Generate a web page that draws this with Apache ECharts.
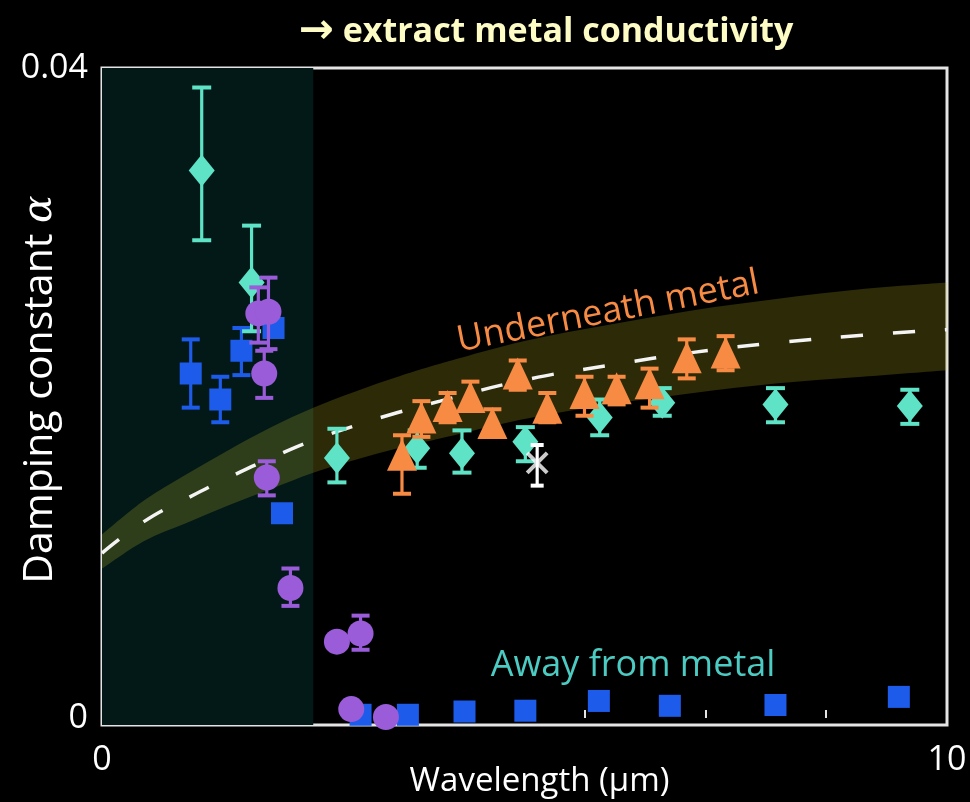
<!DOCTYPE html>
<html>
<head>
<meta charset="utf-8">
<script src="https://cdn.jsdelivr.net/npm/echarts@6/dist/echarts.min.js"></script>
<style>
  html, body { margin: 0; padding: 0; background: #000; }
  #chart { width: 970px; height: 802px; }
</style>
</head>
<body>
<div id="chart"></div>
<script>
// Wavelength range (µm) of the shaded short-wavelength region
const shadeRange = [0, 2.5];

// Model curve (dashed) and its confidence band
const fitX   = [0, 0.5, 1, 1.5, 2, 2.5, 3, 3.5, 4, 5, 6, 7, 8, 9, 10];
const fitY   = [0.01015, 0.0121, 0.0135, 0.0148, 0.0160, 0.0171, 0.0180, 0.0188, 0.0195, 0.0208, 0.0217, 0.0225, 0.0231, 0.02355, 0.0239];
const bandLo = [0.0092, 0.0109, 0.0120, 0.0131, 0.0141, 0.0151, 0.0159, 0.0166, 0.0172, 0.0184, 0.0193, 0.0200, 0.0206, 0.0210, 0.0214];
const bandHi = [0.0113, 0.0134, 0.0150, 0.0165, 0.0179, 0.0191, 0.0201, 0.0210, 0.0218, 0.0232, 0.0242, 0.0251, 0.0258, 0.0264, 0.0268];

// Teal diamonds
const tealX  = [1.18, 1.77, 2.78, 3.73, 4.26, 5.01, 5.89, 6.63, 7.97, 9.56];
const tealY  = [0.0337, 0.0268, 0.0160, 0.0166, 0.0163, 0.0170, 0.0185, 0.0194, 0.0193, 0.0192];
const tealLo = [0.0294, 0.0238, 0.0145, 0.0154, 0.0151, 0.0158, 0.0174, 0.0186, 0.0182, 0.0181];
const tealHi = [0.0388, 0.0303, 0.0178, 0.0177, 0.0177, 0.0179, 0.0196, 0.0203, 0.0203, 0.0202];

// Blue squares (null = no error bar)
const blueX  = [1.05, 1.40, 1.65, 2.03, 2.13, 3.06, 3.62, 4.29, 5.01, 5.88, 6.72, 7.97, 9.43];
const blueY  = [0.0212, 0.0196, 0.0226, 0.0240, 0.0126, 0.0002, 0.0002, 0.0004, 0.00045, 0.00105, 0.00075, 0.0008, 0.0013];
const blueLo = [0.0191, 0.0182, 0.0211, null, null, null, null, null, null, null, null, null, null];
const blueHi = [0.0233, 0.0210, 0.0240, null, null, null, null, null, null, null, null, null, null];

// Purple circles
const purpleX  = [1.85, 1.97, 1.92, 1.95, 2.23, 2.78, 3.06, 2.95, 3.36];
const purpleY  = [0.0249, 0.0250, 0.0212, 0.0148, 0.0080, 0.0047, 0.0052, 0.00055, 0.00006];
const purpleLo = [0.0231, 0.0227, 0.0197, 0.0137, 0.0069, null, 0.0042, null, null];
const purpleHi = [0.0265, 0.0271, 0.0226, 0.0158, 0.0092, null, 0.0063, null, null];

// Orange triangles
const orangeX  = [3.55, 3.78, 4.09, 4.36, 4.62, 4.92, 5.27, 5.71, 6.09, 6.48, 6.92, 7.38];
const orangeY  = [0.0162, 0.0185, 0.0192, 0.01975, 0.01815, 0.0212, 0.0191, 0.0200, 0.0203, 0.0206, 0.0222, 0.0225];
const orangeLo = [0.0138, 0.0173, 0.0182, 0.0190, 0.0173, 0.0202, 0.0182, 0.0186, 0.0193, 0.0191, 0.0209, 0.0214];
const orangeHi = [0.0174, 0.0195, 0.0200, 0.0207, 0.0190, 0.0220, 0.0200, 0.0210, 0.0210, 0.0215, 0.0233, 0.0235];

// White cross
const whiteX  = [5.15];
const whiteY  = [0.0157];
const whiteLo = [0.0143];
const whiteHi = [0.0168];

// Axis ticks and labels
const xTicks  = [1.43, 2.86, 4.29, 5.71, 7.14, 8.57];
const xLabels = [0, 10];
const yTicks  = [0, 0.01, 0.02, 0.03, 0.04];
const yLabels = [0, 0.04];

const COLORS = {
  teal: '#5fe3c6',
  blue: '#1d5cea',
  purple: '#9a5cd9',
  orange: '#f78b44',
  white: '#ffffff'
};
const FONT = '"Open Sans", "Noto Sans", sans-serif';

function points(xs, ys) {
  return xs.map((x, i) => [x, ys[i]]);
}
function errRows(xs, ys, lo, hi) {
  const rows = [];
  xs.forEach((x, i) => {
    if (lo[i] != null && hi[i] != null) rows.push([x, ys[i], lo[i], hi[i]]);
  });
  return rows;
}
// Catmull-Rom spline through pixel points, as cubic Bezier path commands
function splineCmds(pts) {
  let d = '';
  for (let i = 0; i < pts.length - 1; i++) {
    const p0 = pts[i - 1] || pts[i], p1 = pts[i], p2 = pts[i + 1], p3 = pts[i + 2] || pts[i + 1];
    const c1 = [p1[0] + (p2[0] - p0[0]) / 6, p1[1] + (p2[1] - p0[1]) / 6];
    const c2 = [p2[0] - (p3[0] - p1[0]) / 6, p2[1] - (p3[1] - p1[1]) / 6];
    d += ' C' + c1[0] + ',' + c1[1] + ' ' + c2[0] + ',' + c2[1] + ' ' + p2[0] + ',' + p2[1];
  }
  return d;
}
function errorBarSeries(rows, color, capW, z) {
  return {
    type: 'custom',
    z: z,
    clip: true,
    data: rows,
    encode: { x: 0, y: [2, 3] },
    silent: true,
    renderItem: function (params, api) {
      const x = api.value(0);
      const top = api.coord([x, api.value(3)]);
      const bot = api.coord([x, api.value(2)]);
      const s = { stroke: color, lineWidth: 3.2 };
      const c = { stroke: color, lineWidth: 4 };
      return {
        type: 'group',
        children: [
          { type: 'line', shape: { x1: top[0], y1: top[1], x2: bot[0], y2: bot[1] }, style: s },
          { type: 'line', shape: { x1: top[0] - capW / 2, y1: top[1], x2: top[0] + capW / 2, y2: top[1] }, style: c },
          { type: 'line', shape: { x1: bot[0] - capW / 2, y1: bot[1], x2: bot[0] + capW / 2, y2: bot[1] }, style: c }
        ]
      };
    }
  };
}
function markerSeries(data, symbol, size, color, z, extra) {
  return Object.assign({
    type: 'scatter',
    z: z,
    data: data,
    symbol: symbol,
    symbolSize: size,
    itemStyle: { color: color, opacity: 1 },
    emphasis: { disabled: true },
    silent: true
  }, extra || {});
}

const chart = echarts.init(document.getElementById('chart'), null, { renderer: 'canvas' });

const option = {
  backgroundColor: '#000000',
  animation: false,
  grid: {
    left: 102, right: 23, top: 68, bottom: 77,
    outerBoundsMode: 'none',
    containLabel: false,
    show: true,
    backgroundColor: '#000000',
    borderColor: '#e4e4e4',
    borderWidth: 3
  },
  xAxis: {
    type: 'value',
    min: 0, max: 10,
    splitLine: { show: false },
    axisLine: { show: false },
    axisTick: { show: true, inside: true, length: 8, customValues: xTicks, lineStyle: { color: '#e4e4e4', width: 2 } },
    axisLabel: {
      customValues: xLabels, color: '#ffffff', fontFamily: FONT, fontSize: 34, margin: 18
    },
    name: 'Wavelength (μm)',
    nameLocation: 'middle',
    nameMoveOverlap: false,
    nameGap: 57,
    nameTextStyle: { color: '#ffffff', fontFamily: FONT, fontSize: 33, verticalAlign: 'middle', padding: [0, 0, 0, 30] }
  },
  yAxis: {
    type: 'value',
    min: -0.00043, max: 0.04,
    splitLine: { show: false },
    axisLine: { show: false },
    axisTick: { show: true, inside: true, length: 9, customValues: yTicks, lineStyle: { color: '#e4e4e4', width: 2 } },
    axisLabel: {
      customValues: yLabels, color: '#ffffff', fontFamily: FONT, fontSize: 34, margin: 14,
      formatter: function (v) { return v === 0 ? '0' : String(v); }
    },
    name: '{t|Damping constant }{a|α}',
    nameLocation: 'middle',
    nameRotate: 90,
    nameMoveOverlap: false,
    nameGap: 62,
    nameTextStyle: {
      color: '#ffffff', fontFamily: FONT, fontSize: 41, verticalAlign: 'middle',
      padding: [0, 0, 0, 14],
      rich: {
        t: { color: '#ffffff', fontFamily: FONT, fontSize: 41 },
        a: { color: '#ffffff', fontFamily: '"DejaVu Serif", serif', fontStyle: 'italic', fontSize: 41 }
      }
    }
  },
  series: [
    // shaded short-wavelength region
    {
      type: 'custom',
      z: 1,
      clip: true,
      silent: true,
      data: [shadeRange],
      encode: { x: [0, 1] },
      renderItem: function (params, api) {
        const cs = params.coordSys;
        const a = api.coord([api.value(0), 0]);
        const b = api.coord([api.value(1), 0]);
        return { type: 'rect', shape: { x: a[0], y: cs.y, width: b[0] - a[0], height: cs.height }, style: { fill: '#021918' } };
      }
    },
    // confidence band of the model
    {
      type: 'custom',
      z: 2,
      clip: true,
      silent: true,
      data: fitX.map((x, i) => [x, bandLo[i], bandHi[i]]),
      encode: { x: 0, y: [1, 2] },
      renderItem: function (params, api) {
        if (params.dataIndex !== 0) return null;
        const up = fitX.map((x, i) => api.coord([x, bandHi[i]]));
        const low = fitX.map((x, i) => api.coord([x, bandLo[i]])).reverse();
        const d = 'M' + up[0][0] + ',' + up[0][1] + splineCmds(up) +
                  ' L' + low[0][0] + ',' + low[0][1] + splineCmds(low) + ' Z';
        return { type: 'path', shape: { pathData: d }, style: { fill: 'rgba(205, 190, 35, 0.22)' } };
      }
    },
    // model curve
    {
      type: 'line',
      z: 3,
      data: points(fitX, fitY),
      smooth: true,
      showSymbol: false,
      silent: true,
      lineStyle: { color: '#f4f4f4', width: 3.5, type: [22, 30] }
    },
    errorBarSeries(errRows(blueX, blueY, blueLo, blueHi), COLORS.blue, 18, 4),
    markerSeries(points(blueX, blueY), 'rect', [22, 22], COLORS.blue, 5),
    errorBarSeries(errRows(tealX, tealY, tealLo, tealHi), COLORS.teal, 19, 6),
    markerSeries(points(tealX, tealY), 'diamond', [26, 32], COLORS.teal, 7),
    errorBarSeries(errRows(purpleX, purpleY, purpleLo, purpleHi), COLORS.purple, 18, 8),
    markerSeries(points(purpleX, purpleY), 'circle', 26, COLORS.purple, 9),
    errorBarSeries(errRows(orangeX, orangeY, orangeLo, orangeHi), COLORS.orange, 18, 10),
    markerSeries(points(orangeX, orangeY), 'triangle', [30, 32], COLORS.orange, 11),
    errorBarSeries(errRows(whiteX, whiteY, whiteLo, whiteHi), COLORS.white, 13, 12),
    markerSeries(points(whiteX, whiteY), 'path://M0,0L10,10M10,0L0,10', [20, 20], 'transparent', 13,
      { itemStyle: { color: 'transparent', borderColor: '#ffffff', borderWidth: 4 } })
  ],
  graphic: [
    {
      type: 'text', x: 546, y: 32, z: 20,
      style: {
        text: '{a|→} extract metal conductivity',
        fill: '#fdfcc4', font: 'bold 34px ' + FONT,
        textAlign: 'center', textVerticalAlign: 'middle',
        rich: { a: { fill: '#fdfcc4', font: 'bold 42px "DejaVu Sans", sans-serif' } }
      }
    },
    {
      type: 'text', x: 608, y: 312, rotation: 11 * Math.PI / 180, z: 20,
      style: {
        text: 'Underneath metal',
        fill: '#f78b44', font: '36px ' + FONT,
        textAlign: 'center', textVerticalAlign: 'middle'
      }
    },
    {
      type: 'text', x: 633, y: 666, z: 20,
      style: {
        text: 'Away from metal',
        fill: '#4ccbc2', font: '36px ' + FONT,
        textAlign: 'center', textVerticalAlign: 'middle'
      }
    }
  ]
};

chart.setOption(option);
</script>
</body>
</html>
